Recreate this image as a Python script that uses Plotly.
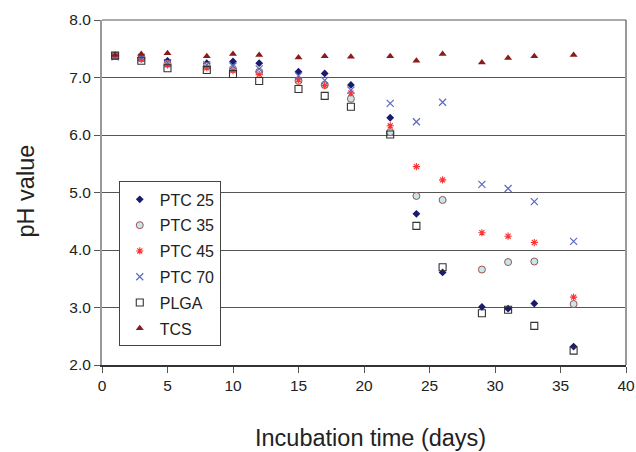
import plotly.graph_objects as go

days = [1, 3, 5, 8, 10, 12, 15, 17, 19, 22, 24, 26, 29, 31, 33, 36]

ptc25 = [7.38, 7.35, 7.29, 7.25, 7.28, 7.25, 7.10, 7.07, 6.87, 6.30, 4.63, 3.61, 3.01, 2.98, 3.07, 2.32]
ptc35 = [7.38, 7.33, 7.24, 7.20, 7.15, 7.10, 6.94, 6.87, 6.63, 6.05, 4.94, 4.87, 3.66, 3.79, 3.80, 3.06]
ptc45 = [7.37, 7.32, 7.22, 7.17, 7.12, 7.05, 6.96, 6.86, 6.73, 6.16, 5.45, 5.22, 4.30, 4.24, 4.13, 3.18]
ptc70 = [7.36, 7.35, 7.26, 7.22, 7.20, 7.15, 7.03, 6.95, 6.78, 6.55, 6.23, 6.57, 5.14, 5.07, 4.84, 4.15]
plga = [7.38, 7.29, 7.16, 7.13, 7.06, 6.94, 6.80, 6.68, 6.49, 6.01, 4.42, 3.70, 2.90, 2.96, 2.68, 2.25]
tcs = [7.39, 7.41, 7.42, 7.37, 7.41, 7.39, 7.35, 7.37, 7.36, 7.37, 7.29, 7.41, 7.26, 7.34, 7.37, 7.39]

x_title = "Incubation time (days)"
y_title = "pH value"

series = [
    ("PTC 25", ptc25, dict(symbol="diamond", size=6, color="#1a1a6e", line=dict(width=0))),
    ("PTC 35", ptc35, dict(symbol="circle", size=7, color="#c4e8ef", line=dict(width=1, color="#a0504a"))),
    ("PTC 45", ptc45, dict(symbol="asterisk-open", size=6, color="#ff3030", line=dict(width=1.1, color="#ff3030"))),
    ("PTC 70", ptc70, dict(symbol="x-thin-open", size=7, color="#5a6ac0", line=dict(width=1.2, color="#5a6ac0"))),
    ("PLGA", plga, dict(symbol="square-open", size=7, color="#333333", line=dict(width=1.1, color="#333333"))),
    ("TCS", tcs, dict(symbol="triangle-up", size=7, color="#8b1a1a", line=dict(width=0))),
]

fig = go.Figure()
for i, (name, vals, mk) in enumerate(series):
    fig.add_trace(go.Scatter(x=days, y=vals, mode="markers", name=name,
                             marker=mk, legendgroup=f"g{i}"))

fig.update_layout(
    width=636, height=452,
    margin=dict(l=102, r=10, t=20, b=87, autoexpand=False),
    paper_bgcolor="white", plot_bgcolor="white",
    font=dict(family="Liberation Sans, Arial, sans-serif", color="#222222"),
    showlegend=True,
    legend=dict(x=0.032, y=0.532, xanchor="left", yanchor="top",
                bordercolor="#444444", borderwidth=1, bgcolor="white",
                font=dict(size=16, color="#222222"), tracegroupgap=2,
                itemwidth=30, itemsizing="trace"),
    xaxis=dict(range=[0, 40], dtick=5, tick0=0, showgrid=False,
               ticks="outside", ticklen=6, tickcolor="#555555",
               showline=True, linecolor="#333333", linewidth=1.5,
               mirror=False, zeroline=False, automargin=False,
               tickfont=dict(size=15.5)),
    yaxis=dict(range=[2, 8], dtick=1, tick0=2, tickformat=".1f",
               showgrid=True, gridcolor="#555555", gridwidth=1,
               ticks="outside", ticklen=6, tickcolor="#555555",
               showline=True, linecolor="#999999", linewidth=2,
               zeroline=False, automargin=False, tickfont=dict(size=15.5)),
    annotations=[
        dict(text=x_title, xref="paper", yref="paper", x=0.513, y=0,
             xanchor="center", yanchor="middle", yshift=-73, showarrow=False,
             font=dict(size=23.5, color="#222222")),
        dict(text=y_title, xref="paper", yref="paper", x=0, y=0.503,
             xanchor="center", yanchor="middle", xshift=-76, textangle=-90,
             showarrow=False, font=dict(size=23.5, color="#222222")),
    ],
)
fig.add_shape(type="line", xref="paper", yref="paper", x0=1, x1=1, y0=0, y1=1,
              line=dict(color="#999999", width=2))
fig.add_shape(type="line", xref="paper", yref="paper", x0=0, x1=1, y0=1, y1=1,
              line=dict(color="#555555", width=1))

fig.write_html("out.html", config={"displayModeBar": False},
               post_script="document.body.style.margin='0';document.body.style.padding='0';")
